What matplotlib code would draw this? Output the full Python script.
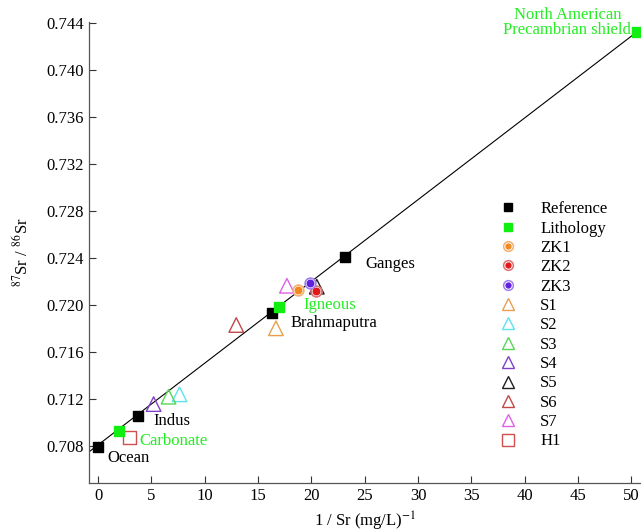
import matplotlib
matplotlib.use("Agg")
import matplotlib.pyplot as plt
from matplotlib.lines import Line2D
from matplotlib.legend_handler import HandlerTuple

plt.rcParams['font.family'] = ['Liberation Serif', 'DejaVu Serif']
plt.rcParams['mathtext.fontset'] = 'stix'

# Reference end-members
ref_names = ['Ocean', 'Indus', 'Brahmaputra', 'Ganges']
ref_x = [0.0, 3.75, 16.3, 23.1]
ref_y = [0.70795, 0.71055, 0.71932, 0.72405]

# Lithology end-members
lith_names = ['Carbonate', 'Igneous', 'North American\nPrecambrian shield']
lith_x = [1.97, 17.0, 50.5]
lith_y = [0.70928, 0.71983, 0.74323]

# Samples
zk_names = ['ZK1', 'ZK2', 'ZK3']
zk_x = [18.73, 20.4, 19.9]
zk_y = [0.72128, 0.72119, 0.72185]

s_names = ['S1', 'S2', 'S3', 'S4', 'S5', 'S6', 'S7']
s_x = [16.67, 7.63, 6.6, 5.2, 20.5, 12.95, 17.7]
s_y = [0.71802, 0.7124, 0.7122, 0.71157, 0.72156, 0.71830, 0.72164]

h_names = ['H1']
h_x = [2.94]
h_y = [0.70874]

# Mixing line
line_x = [-0.85, 50.5]
line_y = [0.70751, 0.74323]

zk_edge = ['#f5b070', '#e07070', '#a080f0']
zk_core = ['#f08a20', '#e01818', '#6020e0']
s_colors = ['#e8a050', '#5fe3f0', '#55d855', '#8040c8', '#202020', '#c04848', '#e060e8']
h_color = '#d05050'
lime = '#22ee22'

fig = plt.figure(figsize=(6.41, 5.32), dpi=100)
ax = fig.add_axes([0.139, 0.092, 0.861, 0.867])

ax.plot(line_x, line_y, color='black', lw=0.8, zorder=1)

ax.scatter(ref_x, ref_y, marker='s', s=50, color='black', zorder=3)
ax.scatter(lith_x, lith_y, marker='s', s=50, color='#11ee11', zorder=3, clip_on=False)

for i, nm in enumerate(s_names):
    ax.scatter(s_x[i], s_y[i], marker='^', s=110, facecolor='none',
               edgecolor=s_colors[i], linewidths=1.0, zorder=2)
for i, nm in enumerate(zk_names):
    ax.scatter(zk_x[i], zk_y[i], marker='o', s=60, facecolor='white',
               edgecolor=zk_edge[i], linewidths=1.2, zorder=4)
    ax.scatter(zk_x[i], zk_y[i], marker='o', s=22, color=zk_core[i], zorder=5)
ax.scatter(h_x, h_y, marker='s', s=80, facecolor='none', edgecolor=h_color,
           linewidths=1.0, zorder=2)

fs = 12
ax.text(0.85, 0.70698, 'Ocean', fontsize=fs, va='center', ha='left')
ax.text(5.16, 0.71013, 'Indus', fontsize=fs, va='center', ha='left')
ax.text(18.0, 0.71847, 'Brahmaputra', fontsize=fs, va='center', ha='left')
ax.text(25.1, 0.72349, 'Ganges', fontsize=fs, va='center', ha='left')
ax.text(3.85, 0.70843, 'Carbonate', fontsize=fs, va='center', ha='left', color=lime)
ax.text(19.23, 0.7200, 'Igneous', fontsize=fs, va='center', ha='left', color=lime)
ax.text(44.0, 0.74405, 'North American\nPrecambrian shield', fontsize=fs, va='center',
        ha='center', color=lime, linespacing=0.95, clip_on=False)

ax.set_xlim(-0.85, 50.9)
ax.set_ylim(0.70485, 0.7441)
ax.set_xticks([0, 5, 10, 15, 20, 25, 30, 35, 40, 45, 50])
ax.set_yticks([0.708, 0.712, 0.716, 0.720, 0.724, 0.728, 0.732, 0.736, 0.740, 0.744])
ax.set_yticklabels(['0.708', '0.712', '0.716', '0.720', '0.724', '0.728', '0.732',
                    '0.736', '0.740', '0.744'])
ax.tick_params(direction='in', labelsize=fs, length=5, width=0.8, colors='#333333',
               labelcolor='black')
ax.spines['top'].set_visible(False)
ax.spines['right'].set_visible(False)
for sp in ['left', 'bottom']:
    ax.spines[sp].set_color('#555555')
    ax.spines[sp].set_linewidth(0.9)

ax.set_xlabel('1 / Sr (mg/L)$^{-1}$', fontsize=fs, labelpad=4)
ax.set_ylabel('$^{87}$Sr / $^{86}$Sr', fontsize=fs, labelpad=11)

# legend
handles = [
    Line2D([], [], marker='s', ls='none', color='black', markersize=6),
    Line2D([], [], marker='s', ls='none', color='#11ee11', markersize=6),
]
labels = ['Reference', 'Lithology']
for i, nm in enumerate(zk_names):
    h1 = Line2D([], [], marker='o', ls='none', markerfacecolor='white',
                markeredgecolor=zk_edge[i], markersize=7, markeredgewidth=1.1)
    h2 = Line2D([], [], marker='o', ls='none', color=zk_core[i], markersize=3.5)
    handles.append((h1, h2))
    labels.append(nm)
for i, nm in enumerate(s_names):
    handles.append(Line2D([], [], marker='^', ls='none', markerfacecolor='none',
                          markeredgecolor=s_colors[i], markersize=9, markeredgewidth=1.0))
    labels.append(nm)
handles.append(Line2D([], [], marker='s', ls='none', markerfacecolor='none',
                      markeredgecolor=h_color, markersize=8, markeredgewidth=1.0))
labels.append('H1')

leg = ax.legend(handles, labels, loc='upper left', bbox_to_anchor=(487 / 641, 1 - 193 / 532),
                bbox_transform=fig.transFigure, frameon=False, fontsize=fs,
                handlelength=1.5, handletextpad=1.2, labelspacing=0.2, borderpad=0,
                handler_map={tuple: HandlerTuple(ndivide=1, pad=0)})

fig.savefig('out.png', dpi=100)
